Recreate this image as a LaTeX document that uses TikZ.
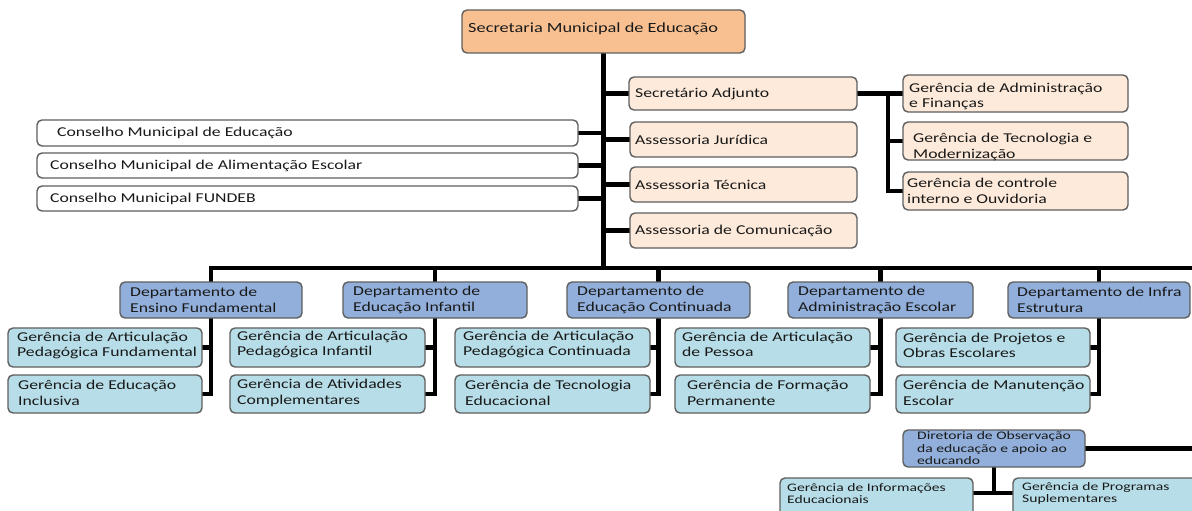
\documentclass[tikz,border=0pt]{standalone}
\usepackage{fontspec}
\setmainfont{Carlito}[FakeStretch=1.31]
\newfontfamily\smallf{Carlito}[FakeStretch=1.36]
\usetikzlibrary{calc,backgrounds}
\definecolor{orangeF}{RGB}{248,192,145}
\definecolor{peachF}{RGB}{253,234,218}
\definecolor{blueF}{RGB}{145,175,218}
\definecolor{tealF}{RGB}{183,222,232}
\definecolor{boxline}{RGB}{95,95,95}
\definecolor{textc}{RGB}{25,25,25}
\tikzset{
  base/.style={draw=boxline, line width=1.4pt, rounded corners=5pt, inner sep=0pt},
  topbox/.style={base, fill=orangeF},
  peach/.style={base, fill=peachF},
  council/.style={base, fill=white},
  dept/.style={base, fill=blueF},
  ger/.style={base, fill=tealF},
  txt/.style={anchor=west, align=left, inner sep=0pt, font=\fontsize{13.5}{15.5}\selectfont, text=textc},
  stxt/.style={anchor=west, align=left, inner sep=0pt, font=\smallf\fontsize{11.5}{12.5}\selectfont, text=textc},
  conn/.style={line width=4.2pt, draw=black, line cap=rect},
}
\newcommand\mkbox[9]{%
  \node[#1, minimum width={#5-#3}, minimum height={#6-#4}] (#2) at ({(#3+#5)/2},{(#4+#6)/2}) {};
  \node[txt] (#2-t) at ({#3+#7},{(#4+#6)/2+#8}) {#9};
}
\newcommand\mksbox[9]{%
  \node[#1, minimum width={#5-#3}, minimum height={#6-#4}] (#2) at ({(#3+#5)/2},{(#4+#6)/2}) {};
  \node[stxt] (#2-t) at ({#3+#7},{(#4+#6)/2+#8}) {#9};
}
\begin{document}
\begin{tikzpicture}[x=1pt,y=-1pt]
\path[use as bounding box] (0,0) rectangle (1192,511);
\clip (0,0) rectangle (1192,511);

% top
\mkbox{topbox}{top}{462}{10}{745}{53}{6}{-3}{\fontsize{14}{16}\selectfont Secretaria Municipal de Educação}
% assessorias
\mkbox{peach}{sa}{629}{77}{857}{110}{6}{0}{Secretário Adjunto}
\mkbox{peach}{aj}{630}{122}{857}{157}{5}{0}{Assessoria Jurídica}
\mkbox{peach}{at}{630}{167}{857}{202}{5}{0}{Assessoria Técnica}
\mkbox{peach}{ac}{630}{213}{857}{248}{5}{0}{Assessoria de Comunicação}
% councils
\mkbox{council}{c1}{37}{120}{578}{146}{20}{0}{Conselho Municipal de Educação}
\mkbox{council}{c2}{37}{153}{578}{178}{13}{0}{Conselho Municipal de Alimentação Escolar}
\mkbox{council}{c3}{37}{186}{578}{211}{13}{0}{Conselho Municipal FUNDEB}
% right group
\mkbox{peach}{g1}{903}{75}{1128}{112}{6}{3}{Gerência de Administração\\e Finanças}
\mkbox{peach}{g2}{903}{122}{1128}{160}{10}{6}{Gerência de Tecnologia e\\Modernização}
\mkbox{peach}{g3}{903}{172}{1128}{210}{4}{0}{Gerência de controle\\interno e Ouvidoria}
% departments
\mkbox{dept}{d1}{120}{282}{302}{318}{10}{0}{Departamento de\\Ensino Fundamental}
\mkbox{dept}{d2}{343}{282}{527}{318}{10}{0}{Departamento de\\Educação Infantil}
\mkbox{dept}{d3}{567}{282}{750}{318}{10}{0}{Departamento de\\Educação Continuada}
\mkbox{dept}{d4}{788}{282}{973}{318}{10}{0}{Departamento de\\Administração Escolar}
\mkbox{dept}{d5}{1008}{282}{1190}{318}{9}{0}{Departamento de Infra\\Estrutura}
% gerencias
\mkbox{ger}{e11}{8}{328}{202}{367}{9}{-2}{Gerência de Articulação\\Pedagógica Fundamental}
\mkbox{ger}{e12}{8}{375}{202}{413}{10}{-1}{Gerência de Educação\\Inclusiva}
\mkbox{ger}{e21}{230}{328}{425}{367}{7}{-3}{Gerência de Articulação\\Pedagógica Infantil}
\mkbox{ger}{e22}{230}{375}{425}{413}{7}{-1}{Gerência de Atividades\\Complementares}
\mkbox{ger}{e31}{455}{328}{650}{367}{8}{-3}{Gerência de Articulação\\Pedagógica Continuada}
\mkbox{ger}{e32}{455}{375}{650}{413}{10}{-1}{Gerência de Tecnologia\\Educacional}
\mkbox{ger}{e41}{675}{328}{870}{367}{7}{-3}{Gerência de Articulação\\de Pessoa}
\mkbox{ger}{e42}{675}{375}{870}{413}{12}{-1}{Gerência de Formação\\Permanente}
\mkbox{ger}{e51}{896}{328}{1090}{367}{7}{-2}{Gerência de Projetos e\\Obras Escolares}
\mkbox{ger}{e52}{896}{375}{1090}{413}{7}{-1}{Gerência de Manutenção\\Escolar}
% diretoria
\mksbox{dept}{dir}{903}{430}{1085}{467}{14}{0}{Diretoria de Observação\\da educação e apoio ao\\educando}
\mksbox{ger}{gi1}{780}{478}{973}{525}{7}{-8}{Gerência de Informações\\Educacionais}
\mksbox{ger}{gi2}{1013}{478}{1210}{525}{9}{-8}{Gerência de Programas\\Suplementares}

% connector helpers
\coordinate (bus) at (0,268);
\coordinate (busEnd) at (1192,268);
\coordinate (rj) at (888,0);
\coordinate (edge) at (1192,0);
\coordinate (gj) at (0,493);

\begin{scope}[on background layer]
\fill[white] (0,0) rectangle (1192,511);
\draw[conn] (top.south) -- (top.south |- bus);
\draw[conn] (d1.north |- bus) -- (busEnd);
\foreach \d in {d1,d2,d3,d4,d5} {
  \draw[conn] (\d.north |- bus) -- (\d.north);
}
\foreach \c in {c1,c2,c3} {
  \draw[conn] (\c.east) -- (\c.east -| top.south);
}
\foreach \a in {sa,aj,at,ac} {
  \draw[conn] (\a.west) -- (\a.west -| top.south);
}
\draw[conn] (sa.east) -- (sa.east -| rj);
\draw[conn] (g1.west -| rj) -- (g3.west -| rj);
\foreach \g in {g1,g2,g3} {
  \draw[conn] (\g.west -| rj) -- (\g.west);
}
\foreach \d/\a/\b in {d1/e11/e12,d2/e21/e22,d3/e31/e32,d4/e41/e42,d5/e51/e52} {
  \draw[conn] (\d.south) -- (\d.south |- \b.east);
  \draw[conn] (\a.east) -- (\a.east -| \d.south);
  \draw[conn] (\b.east) -- (\b.east -| \d.south);
}
\draw[conn] (dir.east) -- (dir.east -| edge);
\draw[conn] (dir.south) -- (dir.south |- gj);
\draw[conn] (gi1.east |- gj) -- (gi2.west |- gj);
\end{scope}
\end{tikzpicture}
\end{document}
